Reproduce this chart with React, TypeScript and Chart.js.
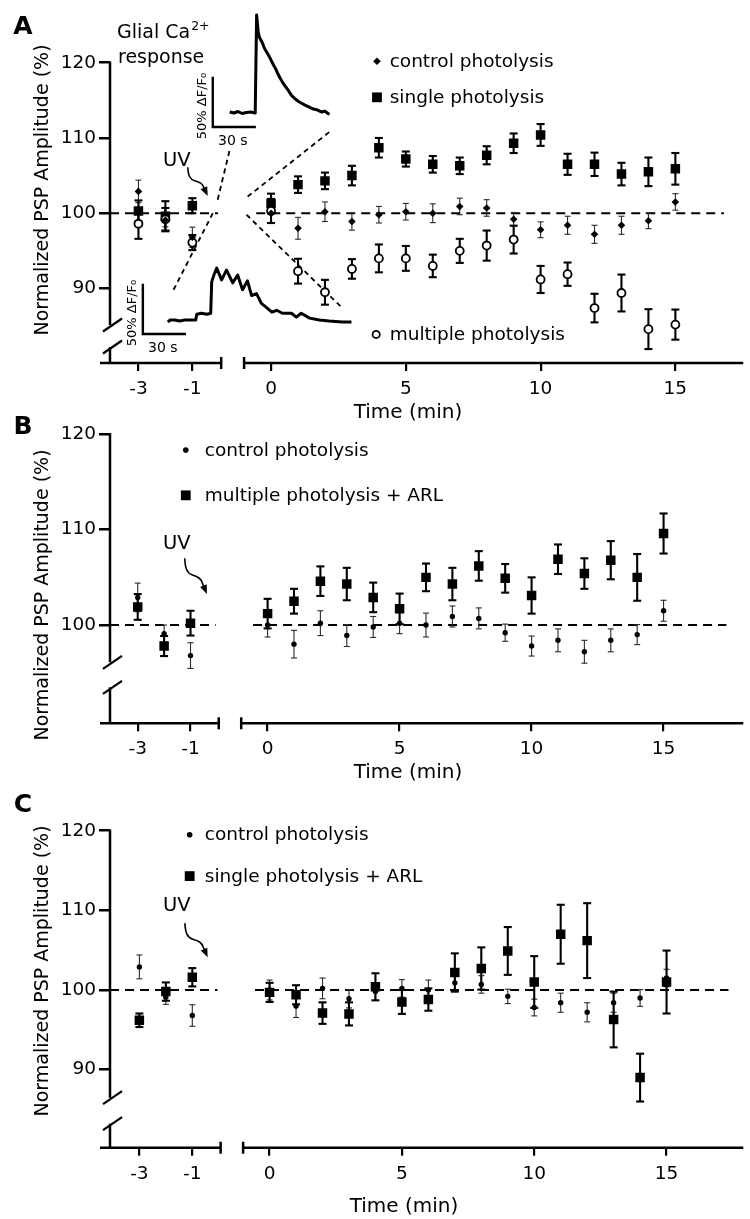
import React, { useEffect, useRef } from 'react';
import { Chart, registerables } from 'chart.js';

Chart.register(...registerables);

const FONT = '"DejaVu Sans", "Liberation Sans", sans-serif';
const PAGE_W = 750;
const PAGE_H = 1219;

// ---------------- data ----------------
const TIME_MIN = [-3, -2, -1, 0, 1, 2, 3, 4, 5, 6, 7, 8, 9, 10, 11, 12, 13, 14, 15];
const X_TICK_LABELS = [-3, -1, 0, 5, 10, 15];
const Y_TICKS_A = [90, 100, 110, 120];
const Y_TICKS_B = [100, 110, 120];
const Y_TICKS_C = [90, 100, 110, 120];

// control photolysis (same group shown in A, B, C)
const CONTROL_MEAN = [102.9, 99.1, 96.8, 100.0, 98.0, 100.2, 98.9, 99.8, 100.2, 100.0, 100.9, 100.7, 99.2, 97.8, 98.4, 97.2, 98.4, 99.0, 101.5];
const CONTROL_SEM = [1.5, 0.9, 1.35, 1.25, 1.45, 1.3, 1.15, 1.1, 1.1, 1.25, 1.1, 1.1, 0.9, 1.05, 1.2, 1.2, 1.2, 1.05, 1.1];

// panel A
const A_SINGLE_MEAN = [100.3, 99.6, 101.0, 101.3, 103.8, 104.3, 105.0, 108.7, 107.2, 106.5, 106.3, 107.7, 109.3, 110.4, 106.5, 106.5, 105.2, 105.5, 105.9];
const A_SINGLE_SEM = [1.4, 2.0, 1.0, 1.3, 1.1, 1.1, 1.3, 1.3, 1.0, 1.1, 1.1, 1.2, 1.3, 1.45, 1.4, 1.55, 1.5, 1.9, 2.1];
const A_MULTI_MEAN = [98.6, 99.2, 96.1, 100.3, 92.3, 89.5, 92.6, 94.0, 94.0, 93.0, 95.0, 95.7, 96.5, 91.2, 91.9, 87.4, 89.4, 84.6, 85.2];
const A_MULTI_SEM = [2.0, 1.5, 1.0, 1.6, 1.65, 1.65, 1.3, 1.85, 1.65, 1.5, 1.6, 2.0, 1.85, 1.8, 1.55, 1.9, 2.45, 2.65, 2.0];

// panel B
const B_MULTI_ARL_MEAN = [101.9, 97.8, 100.2, 101.2, 102.5, 104.6, 104.3, 102.9, 101.7, 105.0, 104.3, 106.2, 104.9, 103.1, 106.9, 105.4, 106.8, 105.0, 109.6];
const B_MULTI_ARL_SEM = [1.35, 1.05, 1.3, 1.55, 1.3, 1.55, 1.7, 1.55, 1.6, 1.45, 1.7, 1.55, 1.5, 1.9, 1.55, 1.6, 2.0, 2.45, 2.1];

// panel C
const C_SINGLE_ARL_MEAN = [96.2, 99.8, 101.6, 99.7, 99.4, 97.1, 97.0, 100.4, 98.5, 98.8, 102.2, 102.7, 104.9, 101.0, 107.0, 106.2, 96.3, 89.0, 101.0];
const C_SINGLE_ARL_SEM = [0.85, 1.15, 1.15, 1.2, 1.2, 1.35, 1.45, 1.7, 1.5, 1.4, 2.4, 2.65, 3.0, 3.25, 3.7, 4.7, 3.5, 3.0, 3.95];

// glial Ca2+ inset traces (time in s, dF/F0 in %)
const INSET_SINGLE_T = [0, 3, 6, 9, 12, 15, 18.3, 18.6, 19.3, 20.5, 21.4, 22.5, 23.6, 24.6, 25.7, 27, 28.6, 30, 31.4, 33, 34.5, 36, 38, 40, 42, 44.3, 46.5, 49, 51.5, 54, 57, 60, 63, 66, 68, 70, 71.4];
const INSET_SINGLE_DFF = [1, 0, 1.5, -0.5, 0.5, 1, 0, 0, 100, 82, 77, 74, 71, 67, 64, 61, 57, 53, 49, 45, 40, 36, 31, 27, 23, 18, 15, 12, 10, 8, 6, 4, 3, 1, 2, 0, -1.5];
const INSET_MULTI_T = [0, 1.5, 5, 8.5, 12, 15.5, 20, 20.7, 24, 28, 30.7, 31.4, 33, 35, 38.5, 42, 46.5, 50, 53.5, 57, 60, 63.5, 67, 70.5, 74.5, 78, 82, 88.5, 92, 95.5, 101.5, 108.5, 115.5, 125, 131.5];
const INSET_MULTI_DFF = [1, 3, 3, 2, 3, 3, 3, 9, 10, 9, 10, 42, 49, 56, 44, 54, 41, 49, 34, 43, 28, 30, 20, 16, 11, 13, 10, 10, 6, 10, 5, 3, 2, 1, 1];

const LABEL_CONTROL = 'control photolysis';
const LABEL_SINGLE = 'single photolysis';
const LABEL_MULTI = 'multiple photolysis';
const LABEL_MULTI_ARL = 'multiple photolysis + ARL';
const LABEL_SINGLE_ARL = 'single photolysis + ARL';

// pre-photolysis times are drawn on a separate (broken) axis segment
const PRE_SHIFT = 1.92;
const shiftTime = (t: number) => (t < 0 ? t - PRE_SHIFT : t);
const LEFT_SEG_END = -1.85;
const RIGHT_SEG_START = -1.0;
const DASH_LEFT_END = -1.97;
const DASH_RIGHT_START = -0.55;

type MarkerStyle = 'diamond' | 'dot' | 'square' | 'circle';

interface SeriesCfg {
  label: string;
  mean: number[];
  sem: number[];
  style: MarkerStyle;
}

interface PanelCfg {
  letter: string;
  plotTop: number;
  plotBottom: number;
  xMin: number;
  xMax: number;
  yMin: number;
  yMax: number;
  yTicks: number[];
  series: SeriesCfg[];
  legend: { style: MarkerStyle; label: string; u: number; v: number }[];
  legendTextU: number;
  uv: { tu: number; tv: number; u0: number; v0: number; u1: number; v1: number };
  breakUpper: number;
  breakLower: number;
  dashRightEnd: number;
  letterPos: [number, number];
  yTitlePos: [number, number];
  xTitlePos: [number, number];
  insets: boolean;
}

const PANELS: PanelCfg[] = [
  {
    letter: 'A',
    plotTop: 62.7,
    plotBottom: 363,
    xMin: -5.975,
    xMax: 17.52,
    yMin: 80.1,
    yMax: 120,
    yTicks: Y_TICKS_A,
    series: [
      { label: LABEL_CONTROL, mean: CONTROL_MEAN, sem: CONTROL_SEM, style: 'diamond' },
      { label: LABEL_MULTI, mean: A_MULTI_MEAN, sem: A_MULTI_SEM, style: 'circle' },
      { label: LABEL_SINGLE, mean: A_SINGLE_MEAN, sem: A_SINGLE_SEM, style: 'square' },
    ],
    legend: [
      { style: 'diamond', label: LABEL_CONTROL, u: 3.93, v: 120.2 },
      { style: 'square', label: LABEL_SINGLE, u: 3.93, v: 115.4 },
      { style: 'circle', label: LABEL_MULTI, u: 3.9, v: 83.9 },
    ],
    legendTextU: 4.4,
    uv: { tu: -3.5, tv: 107.0, u0: -3.09, v0: 106.1, u1: -2.35, v1: 102.3 },
    breakUpper: 38,
    breakLower: 16,
    dashRightEnd: 16.8,
    letterPos: [23, 27],
    yTitlePos: [43, 190],
    xTitlePos: [408, 413],
    insets: true,
  },
  {
    letter: 'B',
    plotTop: 434.3,
    plotBottom: 723.3,
    xMin: -5.97,
    xMax: 18.02,
    yMin: 89.7,
    yMax: 120,
    yTicks: Y_TICKS_B,
    series: [
      { label: LABEL_CONTROL, mean: CONTROL_MEAN, sem: CONTROL_SEM, style: 'dot' },
      { label: LABEL_MULTI_ARL, mean: B_MULTI_ARL_MEAN, sem: B_MULTI_ARL_SEM, style: 'square' },
    ],
    legend: [
      { style: 'dot', label: LABEL_CONTROL, u: -3.1, v: 118.35 },
      { style: 'square', label: LABEL_MULTI_ARL, u: -3.1, v: 113.6 },
    ],
    legendTextU: -2.38,
    uv: { tu: -3.44, tv: 108.5, u0: -3.14, v0: 107.0, u1: -2.3, v1: 103.25 },
    breakUpper: 61,
    breakLower: 36,
    dashRightEnd: 17.38,
    letterPos: [23, 427],
    yTitlePos: [43, 595],
    xTitlePos: [408, 773],
    insets: false,
  },
  {
    letter: 'C',
    plotTop: 830.7,
    plotBottom: 1147.7,
    xMin: -6.03,
    xMax: 17.9,
    yMin: 80.2,
    yMax: 120,
    yTicks: Y_TICKS_C,
    series: [
      { label: LABEL_CONTROL, mean: CONTROL_MEAN, sem: CONTROL_SEM, style: 'dot' },
      { label: LABEL_SINGLE_ARL, mean: C_SINGLE_ARL_MEAN, sem: C_SINGLE_ARL_SEM, style: 'square' },
    ],
    legend: [
      { style: 'dot', label: LABEL_CONTROL, u: -3.02, v: 119.5 },
      { style: 'square', label: LABEL_SINGLE_ARL, u: -3.02, v: 114.3 },
    ],
    legendTextU: -2.45,
    uv: { tu: -3.51, tv: 110.5, u0: -3.2, v0: 108.4, u1: -2.34, v1: 104.1 },
    breakUpper: 50,
    breakLower: 24,
    dashRightEnd: 17.34,
    letterPos: [23, 805],
    yTitlePos: [43, 971],
    xTitlePos: [404, 1207],
    insets: false,
  },
];

const X_AXIS_H = 50;
const PLOT_LEFT = 110;
const PLOT_RIGHT = 745;

// inset placement (hidden linear scales inside panel A)
const INSET_SCALES = {
  xTop: { min: -85.71, max: 367.86 },
  yTop: { min: -255.1, max: 51.33 },
  xBot: { min: -41.43, max: 412.14 },
  yBot: { min: -40.8, max: 265.6 },
};
const SCALEBAR_TOP = { t: -12.1, d: -14.3 };
const SCALEBAR_BOT = { t: -17.9, d: -11.2 };

function pointProps(style: MarkerStyle) {
  switch (style) {
    case 'square':
      return { pointStyle: 'rect', pointRadius: 6.7, backgroundColor: '#000', borderColor: '#000', borderWidth: 0 };
    case 'circle':
      return { pointStyle: 'circle', pointRadius: 4, backgroundColor: '#fff', borderColor: '#000', borderWidth: 1.8 };
    case 'diamond':
      return { pointStyle: 'rectRot', pointRadius: 3.8, backgroundColor: '#000', borderColor: '#000', borderWidth: 0 };
    default:
      return { pointStyle: 'circle', pointRadius: 2.7, backgroundColor: '#000', borderColor: '#000', borderWidth: 0 };
  }
}

function drawMarker(ctx: CanvasRenderingContext2D, style: MarkerStyle, x: number, y: number) {
  ctx.save();
  ctx.fillStyle = '#000';
  ctx.strokeStyle = '#000';
  ctx.beginPath();
  if (style === 'square') {
    ctx.rect(x - 4.9, y - 4.9, 9.8, 9.8);
    ctx.fill();
  } else if (style === 'diamond') {
    ctx.moveTo(x, y - 3.8);
    ctx.lineTo(x + 3.8, y);
    ctx.lineTo(x, y + 3.8);
    ctx.lineTo(x - 3.8, y);
    ctx.closePath();
    ctx.fill();
  } else if (style === 'circle') {
    ctx.arc(x, y, 3.6, 0, Math.PI * 2);
    ctx.fillStyle = '#fff';
    ctx.fill();
    ctx.lineWidth = 1.8;
    ctx.stroke();
  } else {
    ctx.arc(x, y, 2.8, 0, Math.PI * 2);
    ctx.fill();
  }
  ctx.restore();
}

function line(ctx: CanvasRenderingContext2D, x0: number, y0: number, x1: number, y1: number) {
  ctx.beginPath();
  ctx.moveTo(x0, y0);
  ctx.lineTo(x1, y1);
  ctx.stroke();
}

function makeDecor(p: PanelCfg) {
  return {
    id: 'decor' + p.letter,
    beforeDatasetsDraw(chart: any) {
      const ctx: CanvasRenderingContext2D = chart.ctx;
      const ca = chart.chartArea;
      const xs = chart.scales.x;
      const ys = chart.scales.y;
      ctx.save();
      ctx.strokeStyle = '#000';
      ctx.lineCap = 'butt';

      // y axis with break
      ctx.lineWidth = 2.5;
      const ax = ca.left;
      const yBrkU = ca.bottom - p.breakUpper;
      const yBrkL = ca.bottom - p.breakLower;
      line(ctx, ax, ca.top - 1.2, ax, yBrkU);
      line(ctx, ax, yBrkL, ax, ca.bottom);
      ctx.lineWidth = 2.2;
      line(ctx, ax - 7, yBrkU + 6.5, ax + 12, yBrkU - 6.5);
      line(ctx, ax - 7, yBrkL + 6.5, ax + 12, yBrkL - 6.5);

      // x axis with break
      ctx.lineWidth = 2.5;
      const xL = xs.getPixelForValue(LEFT_SEG_END);
      const xR = xs.getPixelForValue(RIGHT_SEG_START);
      line(ctx, ax - 10, ca.bottom, xL, ca.bottom);
      line(ctx, xL, ca.bottom - 6, xL, ca.bottom + 6);
      line(ctx, xR, ca.bottom - 6, xR, ca.bottom + 6);
      line(ctx, xR, ca.bottom, ca.right, ca.bottom);

      // dashed 100% reference
      const y100 = ys.getPixelForValue(100);
      ctx.lineWidth = 2;
      ctx.setLineDash([9, 6]);
      line(ctx, ca.left, y100, xs.getPixelForValue(DASH_LEFT_END), y100);
      line(ctx, xs.getPixelForValue(DASH_RIGHT_START), y100, xs.getPixelForValue(p.dashRightEnd), y100);
      ctx.setLineDash([]);

      // zoom cones from the photolysis gap to the Ca2+ insets
      if (p.insets) {
        const s = chart.scales;
        ctx.lineWidth = 1.8;
        ctx.setLineDash([5, 4]);
        const nT = INSET_SINGLE_T.length - 1;
        const nM = INSET_MULTI_T.length - 1;
        line(ctx, xs.getPixelForValue(-1.98), ys.getPixelForValue(101.8),
          s.xTop.getPixelForValue(INSET_SINGLE_T[0]), s.yTop.getPixelForValue(-37.8));
        line(ctx, xs.getPixelForValue(-0.87), ys.getPixelForValue(102.2),
          s.xTop.getPixelForValue(INSET_SINGLE_T[nT]), s.yTop.getPixelForValue(-19.4));
        line(ctx, xs.getPixelForValue(-2.16), ys.getPixelForValue(100.0),
          s.xBot.getPixelForValue(INSET_MULTI_T[0] + 2.9), s.yBot.getPixelForValue(30.6));
        line(ctx, xs.getPixelForValue(-0.91), ys.getPixelForValue(99.8),
          s.xBot.getPixelForValue(INSET_MULTI_T[nM] - 6.5), s.yBot.getPixelForValue(15.3));
        ctx.setLineDash([]);
      }

      // error bars
      chart.data.datasets.forEach((ds: any, di: number) => {
        if (!ds.errors) return;
        const meta = chart.getDatasetMeta(di);
        const yS = chart.scales[meta.yAxisID];
        const thin = ds.markerStyle === 'diamond' || ds.markerStyle === 'dot';
        ctx.strokeStyle = thin ? '#2a2a2a' : '#000';
        ctx.lineWidth = thin ? 1.1 : 2.1;
        const cap = thin ? 3 : 4;
        meta.data.forEach((pt: any, i: number) => {
          const v = ds.data[i].y;
          const e = ds.errors[i];
          const yTop = yS.getPixelForValue(v + e);
          const yBot = yS.getPixelForValue(v - e);
          line(ctx, pt.x, yTop, pt.x, yBot);
          line(ctx, pt.x - cap, yTop, pt.x + cap, yTop);
          line(ctx, pt.x - cap, yBot, pt.x + cap, yBot);
        });
      });
      ctx.restore();
    },
    afterDraw(chart: any) {
      const ctx: CanvasRenderingContext2D = chart.ctx;
      const xs = chart.scales.x;
      const ys = chart.scales.y;
      ctx.save();
      ctx.fillStyle = '#000';
      ctx.strokeStyle = '#000';

      // legend
      ctx.font = `18.5px ${FONT}`;
      ctx.textAlign = 'left';
      ctx.textBaseline = 'middle';
      const tx = xs.getPixelForValue(p.legendTextU);
      p.legend.forEach((it) => {
        const y = ys.getPixelForValue(it.v);
        drawMarker(ctx, it.style, xs.getPixelForValue(it.u), y);
        ctx.fillStyle = '#000';
        ctx.fillText(it.label, tx, y + 1);
      });

      // UV label and wavy arrow
      ctx.font = `19.5px ${FONT}`;
      ctx.textAlign = 'center';
      ctx.fillText('UV', xs.getPixelForValue(p.uv.tu), ys.getPixelForValue(p.uv.tv));
      const x0 = xs.getPixelForValue(p.uv.u0);
      const y0 = ys.getPixelForValue(p.uv.v0);
      const x1 = xs.getPixelForValue(p.uv.u1);
      const y1 = ys.getPixelForValue(p.uv.v1);
      const dx = x1 - x0;
      const dy = y1 - y0;
      const P = (a: number, b: number): [number, number] => [x0 + a * dx, y0 + b * dy];
      ctx.lineWidth = 1.6;
      ctx.beginPath();
      ctx.moveTo(x0, y0);
      ctx.bezierCurveTo(...P(0.02, 0.28), ...P(0.1, 0.42), ...P(0.35, 0.47));
      ctx.bezierCurveTo(...P(0.6, 0.52), ...P(0.74, 0.56), ...P(0.8, 0.7));
      ctx.lineTo(...P(0.9, 0.84));
      ctx.stroke();
      {
        const [bx, by] = P(0.8, 0.7);
        const ang = Math.atan2(y1 - by, x1 - bx);
        const len = 9;
        const hw = 3.6;
        const cx = x1 - Math.cos(ang) * len;
        const cy = y1 - Math.sin(ang) * len;
        ctx.beginPath();
        ctx.moveTo(x1, y1);
        ctx.lineTo(cx - Math.sin(ang) * hw, cy + Math.cos(ang) * hw);
        ctx.lineTo(cx + Math.sin(ang) * hw, cy - Math.cos(ang) * hw);
        ctx.closePath();
        ctx.fill();
      }

      // panel letter
      ctx.font = `bold 25px ${FONT}`;
      ctx.textAlign = 'center';
      ctx.textBaseline = 'middle';
      ctx.fillText(p.letter, p.letterPos[0], p.letterPos[1]);

      // axis titles
      ctx.font = `20px ${FONT}`;
      ctx.fillText('Time (min)', p.xTitlePos[0], p.xTitlePos[1]);
      ctx.save();
      ctx.translate(p.yTitlePos[0], p.yTitlePos[1]);
      ctx.rotate(-Math.PI / 2);
      ctx.font = `19px ${FONT}`;
      ctx.fillText('Normalized PSP Amplitude (%)', 0, 0);
      ctx.restore();

      // inset annotations
      if (p.insets) {
        const s = chart.scales;
        ctx.font = `19px ${FONT}`;
        ctx.textAlign = 'left';
        ctx.textBaseline = 'alphabetic';
        ctx.fillText('Glial Ca', 117, 38);
        const w = ctx.measureText('Glial Ca').width;
        ctx.font = `12.5px ${FONT}`;
        ctx.fillText('2+', 117 + w + 1, 30);
        ctx.font = `19px ${FONT}`;
        ctx.fillText('response', 118, 63);

        const bars: [any, any, { t: number; d: number }][] = [
          [s.xTop, s.yTop, SCALEBAR_TOP],
          [s.xBot, s.yBot, SCALEBAR_BOT],
        ];
        bars.forEach(([bxS, byS, sb]) => {
          const ox = bxS.getPixelForValue(sb.t);
          const oy = byS.getPixelForValue(sb.d);
          const topY = byS.getPixelForValue(sb.d + 50);
          const rx = bxS.getPixelForValue(sb.t + 30);
          ctx.lineWidth = 2.4;
          ctx.lineCap = 'square';
          ctx.beginPath();
          ctx.moveTo(ox, topY);
          ctx.lineTo(ox, oy);
          ctx.lineTo(rx, oy);
          ctx.stroke();
          ctx.font = `14px ${FONT}`;
          ctx.textAlign = 'center';
          ctx.textBaseline = 'middle';
          ctx.fillText('30 s', ox + 20, oy + 14);
          ctx.save();
          ctx.translate(ox - 10, oy - 21);
          ctx.rotate(-Math.PI / 2);
          ctx.font = `13px ${FONT}`;
          ctx.fillText('50% \u0394F/F\u2080', 0, 0);
          ctx.restore();
        });
      }
      ctx.restore();
    },
  };
}

function buildConfig(p: PanelCfg): any {
  const datasets: any[] = p.series.map((s) => ({
    label: s.label,
    data: TIME_MIN.map((t, i) => ({ x: shiftTime(t), y: s.mean[i] })),
    errors: s.sem,
    markerStyle: s.style,
    showLine: false,
    ...pointProps(s.style),
  }));

  const scales: any = {
    x: {
      type: 'linear',
      position: 'bottom',
      min: p.xMin,
      max: p.xMax,
      afterBuildTicks: (axis: any) => {
        axis.ticks = X_TICK_LABELS.map((t) => ({ value: shiftTime(t) }));
      },
      afterFit: (axis: any) => {
        axis.height = X_AXIS_H;
      },
      ticks: {
        autoSkip: false,
        maxRotation: 0,
        color: '#000',
        padding: 7,
        font: { family: FONT, size: 18.5 },
        callback: (_v: number, i: number) => String(X_TICK_LABELS[i]),
      },
      grid: { drawOnChartArea: false, drawTicks: true, tickLength: 8, color: '#000', lineWidth: 2.2 },
      border: { display: false },
    },
    y: {
      type: 'linear',
      position: 'left',
      min: p.yMin,
      max: p.yMax,
      afterBuildTicks: (axis: any) => {
        axis.ticks = p.yTicks.map((v) => ({ value: v }));
      },
      afterFit: (axis: any) => {
        axis.width = PLOT_LEFT;
      },
      ticks: {
        color: '#000',
        padding: 3,
        font: { family: FONT, size: 18.5 },
        callback: (v: number) => String(v),
      },
      grid: { drawOnChartArea: false, drawTicks: true, tickLength: 11, color: '#000', lineWidth: 2.5 },
      border: { display: false },
    },
  };

  if (p.insets) {
    datasets.push({
      type: 'line',
      label: 'single photolysis Ca2+ trace',
      data: INSET_SINGLE_T.map((t, i) => ({ x: t, y: INSET_SINGLE_DFF[i] })),
      xAxisID: 'xTop',
      yAxisID: 'yTop',
      borderColor: '#000',
      borderWidth: 3,
      pointRadius: 0,
      tension: 0,
      clip: false,
      borderJoinStyle: 'round',
    });
    datasets.push({
      type: 'line',
      label: 'multiple photolysis Ca2+ trace',
      data: INSET_MULTI_T.map((t, i) => ({ x: t, y: INSET_MULTI_DFF[i] })),
      xAxisID: 'xBot',
      yAxisID: 'yBot',
      borderColor: '#000',
      borderWidth: 3,
      pointRadius: 0,
      tension: 0,
      clip: false,
      borderJoinStyle: 'round',
    });
    scales.xTop = { type: 'linear', axis: 'x', display: false, ...INSET_SCALES.xTop };
    scales.yTop = { type: 'linear', axis: 'y', display: false, ...INSET_SCALES.yTop };
    scales.xBot = { type: 'linear', axis: 'x', display: false, ...INSET_SCALES.xBot };
    scales.yBot = { type: 'linear', axis: 'y', display: false, ...INSET_SCALES.yBot };
  }

  return {
    type: 'scatter',
    data: { datasets },
    options: {
      responsive: false,
      maintainAspectRatio: false,
      animation: false,
      devicePixelRatio: 1,
      events: [],
      layout: {
        padding: {
          left: 0,
          right: PAGE_W - PLOT_RIGHT,
          top: p.plotTop,
          bottom: PAGE_H - p.plotBottom - X_AXIS_H,
        },
      },
      plugins: {
        legend: { display: false },
        tooltip: { enabled: false },
        title: { display: false },
      },
      scales,
    },
    plugins: [makeDecor(p)],
  };
}

function Panel({ cfg }: { cfg: PanelCfg }) {
  const ref = useRef<HTMLCanvasElement>(null);
  useEffect(() => {
    if (!ref.current) return;
    const chart = new Chart(ref.current, buildConfig(cfg));
    return () => chart.destroy();
  }, [cfg]);
  return (
    <canvas
      ref={ref}
      width={PAGE_W}
      height={PAGE_H}
      style={{ position: 'absolute', left: 0, top: 0, width: PAGE_W, height: PAGE_H }}
    />
  );
}

export default function App() {
  return (
    <div style={{ position: 'absolute', left: 0, top: 0, width: PAGE_W, height: PAGE_H, background: '#fff', overflow: 'hidden' }}>
      {PANELS.map((p) => (
        <Panel key={p.letter} cfg={p} />
      ))}
    </div>
  );
}
